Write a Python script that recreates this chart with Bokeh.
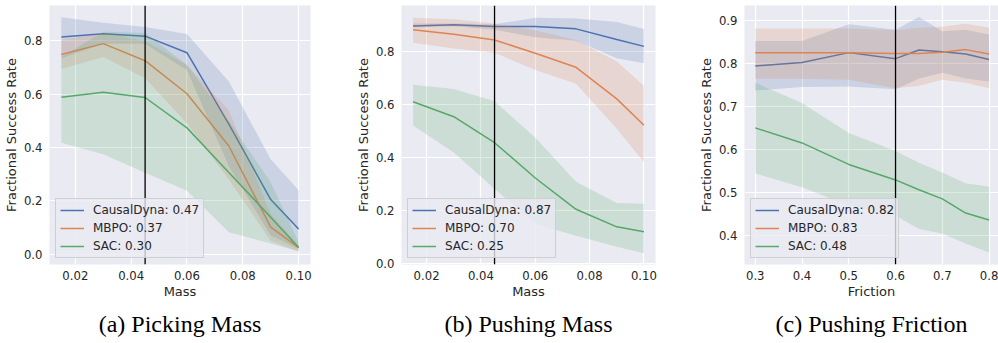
from bokeh.plotting import figure
from bokeh.layouts import row
from bokeh.models import (Span, Legend, LegendItem, FixedTicker, PrintfTickFormatter,
                          Title, Range1d)
from bokeh.embed import file_html
from bokeh.resources import INLINE

# ---------------- data ----------------
mass_x = [0.015, 0.03, 0.045, 0.06, 0.075, 0.09, 0.1]
fric_x = [0.3, 0.4, 0.5, 0.6, 0.65, 0.7, 0.75, 0.8]

# (a) Picking Mass
a_cd = [0.815, 0.827, 0.818, 0.756, 0.488, 0.205, 0.095]
a_cd_lo = [0.735, 0.790, 0.790, 0.690, 0.330, 0.070, 0.020]
a_cd_hi = [0.889, 0.868, 0.852, 0.826, 0.648, 0.356, 0.240]
a_mb = [0.749, 0.790, 0.726, 0.602, 0.406, 0.102, 0.025]
a_mb_lo = [0.695, 0.740, 0.660, 0.490, 0.280, 0.050, 0.010]
a_mb_hi = [0.805, 0.830, 0.800, 0.710, 0.540, 0.150, 0.035]
a_sac = [0.589, 0.608, 0.588, 0.474, 0.307, 0.139, 0.025]
a_sac_lo = [0.418, 0.375, 0.306, 0.238, 0.083, 0.040, 0.010]
a_sac_hi = [0.740, 0.835, 0.830, 0.710, 0.500, 0.270, 0.045]

# (b) Pushing Mass
b_cd = [0.897, 0.901, 0.895, 0.895, 0.886, 0.846, 0.820]
b_cd_lo = [0.891, 0.896, 0.883, 0.854, 0.841, 0.775, 0.756]
b_cd_hi = [0.906, 0.906, 0.903, 0.928, 0.925, 0.912, 0.885]
b_mb = [0.883, 0.866, 0.844, 0.794, 0.741, 0.622, 0.523]
b_mb_lo = [0.834, 0.812, 0.796, 0.731, 0.679, 0.510, 0.383]
b_mb_hi = [0.928, 0.922, 0.906, 0.881, 0.844, 0.763, 0.672]
b_sac = [0.611, 0.555, 0.457, 0.324, 0.206, 0.140, 0.121]
b_sac_lo = [0.522, 0.420, 0.283, 0.152, 0.106, 0.065, 0.040]
b_sac_hi = [0.675, 0.659, 0.613, 0.476, 0.310, 0.230, 0.227]

# (c) Pushing Friction
c_cd = [0.794, 0.802, 0.825, 0.811, 0.831, 0.827, 0.822, 0.809]
c_cd_lo = [0.737, 0.745, 0.746, 0.740, 0.765, 0.778, 0.765, 0.758]
c_cd_hi = [0.852, 0.852, 0.891, 0.878, 0.908, 0.875, 0.878, 0.867]
c_mb = [0.825, 0.825, 0.825, 0.823, 0.823, 0.826, 0.832, 0.822]
c_mb_lo = [0.764, 0.764, 0.762, 0.742, 0.748, 0.762, 0.755, 0.742]
c_mb_hi = [0.881, 0.881, 0.881, 0.877, 0.883, 0.885, 0.892, 0.883]
c_sac = [0.650, 0.615, 0.565, 0.529, 0.506, 0.485, 0.452, 0.436]
c_sac_lo = [0.544, 0.512, 0.469, 0.446, 0.415, 0.404, 0.381, 0.360]
c_sac_hi = [0.755, 0.708, 0.638, 0.596, 0.569, 0.546, 0.521, 0.513]

a_labels = ["CausalDyna: 0.47", "MBPO: 0.37", "SAC: 0.30"]
b_labels = ["CausalDyna: 0.87", "MBPO: 0.70", "SAC: 0.25"]
c_labels = ["CausalDyna: 0.82", "MBPO: 0.83", "SAC: 0.48"]

mass_ticks = [0.02, 0.04, 0.06, 0.08, 0.10]
fric_ticks = [0.3, 0.4, 0.5, 0.6, 0.7, 0.8]
a_yticks = [0.0, 0.2, 0.4, 0.6, 0.8]
b_yticks = [0.0, 0.2, 0.4, 0.6, 0.8]
c_yticks = [0.4, 0.5, 0.6, 0.7, 0.8, 0.9]

COLORS = ["#4C72B0", "#DD8452", "#55A868"]
BG = "#EAEAF2"
TXT = "#262626"
FONT = "DejaVu Sans"


def panel(x, series, labels, xr, yr, xticks, yticks, xfmt, xlabel, vline, caption,
          width, bl, br):
    p = figure(width=width, height=343, x_range=Range1d(*xr), y_range=Range1d(*yr),
               output_backend="svg", toolbar_location=None,
               min_border_left=bl, min_border_right=br, min_border_top=5,
               min_border_bottom=77, background_fill_color=BG,
               border_fill_color="white", outline_line_color=None)
    p.grid.grid_line_color = "white"
    p.grid.grid_line_width = 1.2
    for ax in (p.xaxis[0], p.yaxis[0]):
        ax.axis_line_color = None
        ax.major_tick_line_color = None
        ax.minor_tick_line_color = None
        ax.major_tick_out = 0
        ax.major_tick_in = 0
        ax.major_label_text_font = FONT
        ax.major_label_text_font_size = "11.7px"
        ax.major_label_text_color = TXT
        ax.axis_label_text_font = FONT
        ax.axis_label_text_font_size = "13px"
        ax.axis_label_text_font_style = "normal"
        ax.axis_label_text_color = TXT
    p.xaxis.ticker = FixedTicker(ticks=xticks)
    p.yaxis.ticker = FixedTicker(ticks=yticks)
    p.xaxis.formatter = PrintfTickFormatter(format=xfmt)
    p.yaxis.formatter = PrintfTickFormatter(format="%.1f")
    p.xaxis.axis_label = xlabel
    p.yaxis.axis_label = "Fractional Success Rate"
    p.xaxis.major_label_standoff = 6
    p.xaxis.axis_label_standoff = 1
    p.yaxis.major_label_standoff = 7
    p.yaxis.axis_label_standoff = 2

    items = []
    for (m, lo, hi), c, lab in zip(series, COLORS, labels):
        p.varea(x=x, y1=lo, y2=hi, fill_color=c, fill_alpha=0.2)
        r = p.line(x, m, line_color=c, line_width=1.5)
        items.append(LegendItem(label=lab, renderers=[r]))

    p.add_layout(Span(location=vline, dimension="height", line_color="black",
                      line_width=1.3))
    leg = Legend(items=items, location="bottom_left",
                 background_fill_color=BG, background_fill_alpha=0.8,
                 border_line_color="#CCCCCC", border_line_alpha=0.9,
                 label_text_font=FONT, label_text_font_size="12px",
                 label_text_color=TXT, margin=6, padding=4, spacing=4,
                 glyph_width=24, glyph_height=14, label_height=14,
                 label_standoff=9)
    p.add_layout(leg)
    p.add_layout(Title(text=caption, align="center", text_font="Liberation Serif",
                       text_font_size="24px", text_font_style="normal",
                       text_color="black", standoff=14), "below")
    return p


p1 = panel(mass_x,
           [(a_cd, a_cd_lo, a_cd_hi), (a_mb, a_mb_lo, a_mb_hi), (a_sac, a_sac_lo, a_sac_hi)],
           a_labels, (0.01075, 0.10425), (-0.0384, 0.933), mass_ticks, a_yticks,
           "%.2f", "Mass", 0.045, "(a) Picking Mass", 352, 49, 42)
p2 = panel(mass_x,
           [(b_cd, b_cd_lo, b_cd_hi), (b_mb, b_mb_lo, b_mb_hi), (b_sac, b_sac_lo, b_sac_hi)],
           b_labels, (0.01075, 0.10425), (-0.002, 0.974), mass_ticks, b_yticks,
           "%.2f", "Mass", 0.045, "(b) Pushing Mass", 343, 42, 40)
p3 = panel(fric_x,
           [(c_cd, c_cd_lo, c_cd_hi), (c_mb, c_mb_lo, c_mb_hi), (c_sac, c_sac_lo, c_sac_hi)],
           c_labels, (0.277, 0.8202), (0.3323, 0.9346), fric_ticks, c_yticks,
           "%.1f", "Friction", 0.6, "(c) Pushing Friction", 303, 43, 0)

layout = row(p1, p2, p3)
open("out.html", "w").write(file_html(layout, INLINE))
